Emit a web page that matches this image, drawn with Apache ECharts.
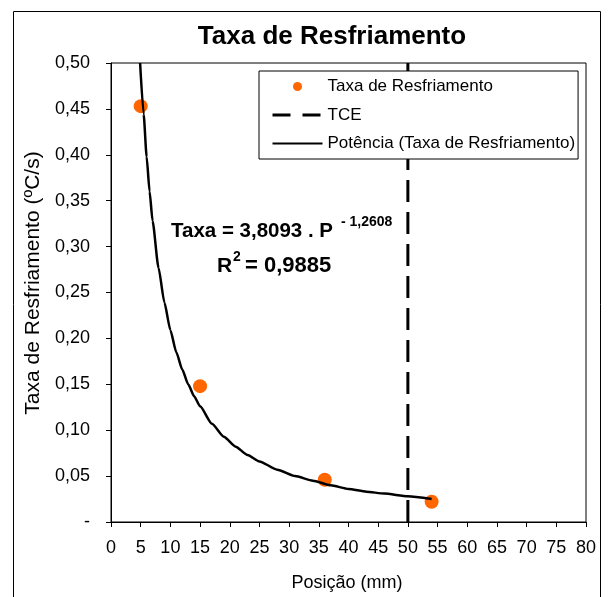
<!DOCTYPE html>
<html>
<head>
<meta charset="utf-8">
<script src="https://cdn.jsdelivr.net/npm/echarts@6/dist/echarts.min.js"></script>
<style>
html,body{margin:0;padding:0;background:#fff;}
#chart{width:610px;height:597px;}
</style>
</head>
<body>
<div id="chart"></div>
<script>
// Measured points
var pointX = [5, 15, 36, 54];
var pointY = [0.453, 0.148, 0.046, 0.022];
// Trend curve
var curveX = [4.9, 5.5, 6, 6.5, 7, 8, 9, 10, 11, 12, 13, 14, 15, 17, 19, 21, 23, 25, 28, 31, 34, 37, 40, 43, 46, 50, 54];
var curveY = [0.500, 0.444, 0.398, 0.360, 0.328, 0.277, 0.239, 0.209, 0.185, 0.166, 0.150, 0.137, 0.126, 0.107, 0.093, 0.082, 0.073, 0.066, 0.057, 0.050, 0.045, 0.040, 0.036, 0.033, 0.031, 0.028, 0.025];
// TCE vertical line
var tceX = [50, 50];
var tceY = [0, 0.5];

var titleText = 'Taxa de Resfriamento';
var xName = 'Posição (mm)';
var yName = 'Taxa de Resfriamento (ºC/s)';
var seriesNames = ['Taxa de Resfriamento', 'TCE', 'Potência (Taxa de Resfriamento)'];

function zip(a, b) { return a.map(function (v, i) { return [v, b[i]]; }); }

var FONT = '"Liberation Sans", Arial, sans-serif';
var chart = echarts.init(document.getElementById('chart'), null, {renderer: 'canvas'});

chart.setOption({
  animation: false,
  backgroundColor: '#fff',
  title: {
    text: titleText,
    left: 327, top: 19, textAlign: 'center',
    textStyle: {fontFamily: FONT, fontSize: 26, fontWeight: 'bold', color: '#000'}
  },
  grid: {left: 111, right: 24, top: 63, bottom: 75, show: true, borderColor: '#000', borderWidth: 1},
  xAxis: {
    type: 'value', min: 0, max: 80, interval: 5,
    axisLine: {lineStyle: {color: '#000', width: 1}},
    axisTick: {show: true, inside: false, length: 5, lineStyle: {color: '#000'}},
    splitLine: {show: false},
    axisLabel: {fontFamily: FONT, fontSize: 18, color: '#000', margin: 17}
  },
  yAxis: {
    type: 'value', min: 0, max: 0.5, interval: 0.05,
    axisLine: {show: true, lineStyle: {color: '#000', width: 1}},
    axisTick: {show: true, inside: false, length: 5, lineStyle: {color: '#000'}},
    splitLine: {show: false},
    axisLabel: {
      fontFamily: FONT, fontSize: 18, color: '#000', margin: 21,
      formatter: function (v) { return Math.abs(v) < 1e-9 ? '-' : v.toFixed(2).replace('.', ','); }
    }
  },
  legend: {
    orient: 'vertical',
    left: 259, top: 71,
    padding: [7, 3, 7, 12],
    itemWidth: 50, itemHeight: 9, itemGap: 11.5,
    borderColor: '#000', borderWidth: 1,
    backgroundColor: '#fff',
    textStyle: {fontFamily: FONT, fontSize: 17, color: '#000'},
    data: [
      {name: seriesNames[0], icon: 'circle', itemStyle: {color: '#FF6600', opacity: 1}},
      {name: seriesNames[1], itemStyle: {color: 'rgba(0,0,0,0)', borderWidth: 0}, lineStyle: {type: [18, 12], width: 3}},
      {name: seriesNames[2], itemStyle: {color: 'rgba(0,0,0,0)', borderWidth: 0}}
    ]
  },
  series: [
    {
      name: seriesNames[0], type: 'scatter', symbol: 'circle', symbolSize: 14,
      itemStyle: {color: '#FF6600', opacity: 1}, z: 3,
      data: zip(pointX, pointY)
    },
    {
      name: seriesNames[1], type: 'line', symbol: 'none', z: 2,
      lineStyle: {color: '#000', width: 3, type: [22, 10]},
      itemStyle: {color: '#000'},
      data: zip(tceX, tceY)
    },
    {
      name: seriesNames[2], type: 'line', symbol: 'none', smooth: 0.2, smoothMonotone: 'x', z: 4, clip: true,
      lineStyle: {color: '#000', width: 2.5},
      itemStyle: {color: '#000'},
      data: zip(curveX, curveY)
    }
  ],
  graphic: [
    {type: 'rect', shape: {x: 13.5, y: 11.5, width: 587, height: 600}, style: {fill: 'none', stroke: '#000', lineWidth: 1}, silent: true, z: 100},
    {type: 'text', x: 33, y: 283, rotation: Math.PI / 2,
      style: {text: yName, fontFamily: FONT, fontSize: 21, fill: '#000', align: 'center', verticalAlign: 'middle'}},
    {type: 'text', x: 347, y: 583,
      style: {text: xName, fontFamily: FONT, fontSize: 18, fill: '#000', align: 'center', verticalAlign: 'middle'}},
    {type: 'text', x: 171, y: 231, z: 10,
      style: {text: 'Taxa = 3,8093 . P', fontFamily: FONT, fontSize: 20.5, fontWeight: 'bold', fill: '#000', align: 'left', verticalAlign: 'middle'}},
    {type: 'text', x: 341, y: 222, z: 10,
      style: {text: '- 1,2608', fontFamily: FONT, fontSize: 14, fontWeight: 'bold', fill: '#000', align: 'left', verticalAlign: 'middle'}},
    {type: 'text', x: 217, y: 266, z: 10,
      style: {text: 'R', fontFamily: FONT, fontSize: 21, fontWeight: 'bold', fill: '#000', align: 'left', verticalAlign: 'middle'}},
    {type: 'text', x: 233, y: 257, z: 10,
      style: {text: '2', fontFamily: FONT, fontSize: 14, fontWeight: 'bold', fill: '#000', align: 'left', verticalAlign: 'middle'}},
    {type: 'text', x: 245, y: 266, z: 10,
      style: {text: '= 0,9885', fontFamily: FONT, fontSize: 22, fontWeight: 'bold', fill: '#000', align: 'left', verticalAlign: 'middle'}}
  ]
});
</script>
</body>
</html>
